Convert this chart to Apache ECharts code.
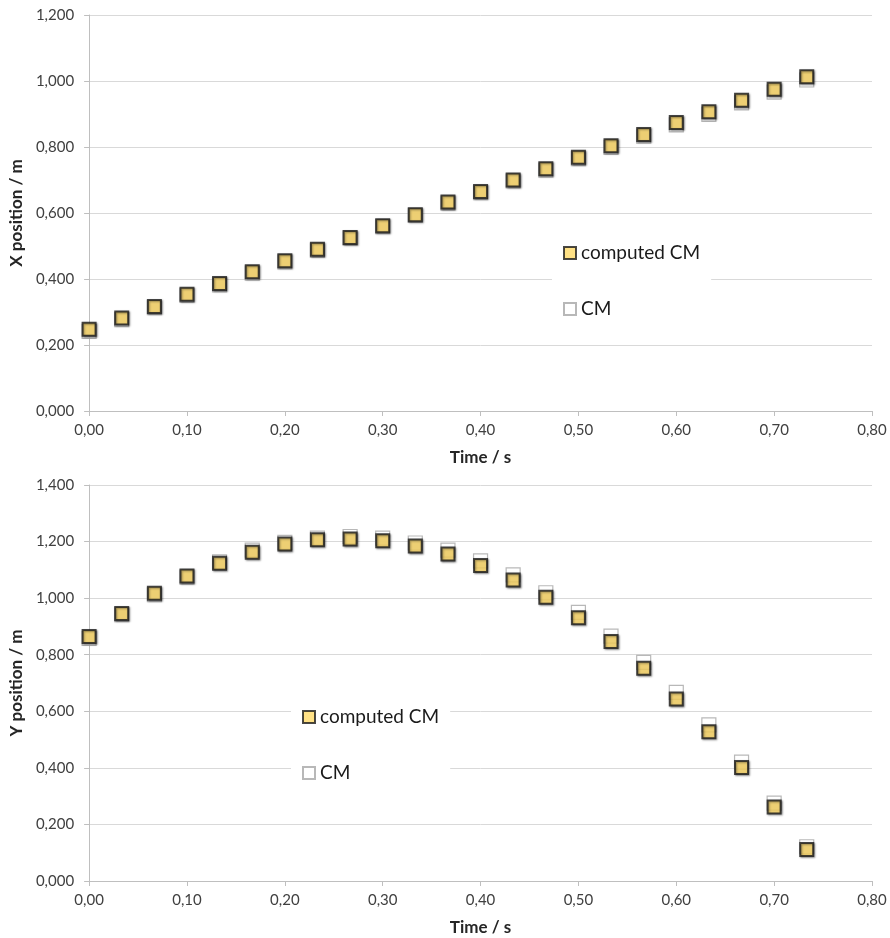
<!DOCTYPE html>
<html>
<head>
<meta charset="utf-8">
<script src="https://cdn.jsdelivr.net/npm/echarts@6/dist/echarts.min.js"></script>
<style>html,body{margin:0;padding:0;background:#fff}#c{width:890px;height:938px}</style>
</head>
<body>
<div id="c"></div>
<script>
// Time stamps (s)
var time = [0.0000,0.0333,0.0667,0.1000,0.1333,0.1667,0.2000,0.2333,0.2667,0.3000,0.3333,0.3667,0.4000,0.4333,0.4667,0.5000,0.5333,0.5667,0.6000,0.6333,0.6667,0.7000,0.7333];
// X position (m)
var xComputed = [0.248,0.282,0.317,0.354,0.386,0.422,0.455,0.490,0.526,0.561,0.595,0.633,0.665,0.700,0.734,0.769,0.804,0.838,0.874,0.907,0.942,0.975,1.013];
var xCM       = [0.241,0.277,0.313,0.350,0.382,0.418,0.452,0.487,0.524,0.559,0.593,0.630,0.662,0.697,0.730,0.765,0.799,0.833,0.867,0.899,0.934,0.966,1.003];
// Y position (m)
var yComputed = [0.864,0.946,1.017,1.078,1.123,1.162,1.191,1.206,1.209,1.203,1.184,1.156,1.115,1.064,1.003,0.931,0.847,0.752,0.643,0.528,0.401,0.262,0.111];
var yCM       = [0.858,0.942,1.012,1.074,1.128,1.170,1.197,1.212,1.218,1.212,1.195,1.170,1.132,1.082,1.019,0.950,0.866,0.773,0.667,0.552,0.420,0.275,0.121];
// Tick labels
var xTicks = ['0,00','0,10','0,20','0,30','0,40','0,50','0,60','0,70','0,80'];
var yTicksTop = ['0,000','0,200','0,400','0,600','0,800','1,000','1,200'];
var yTicksBottom = ['0,000','0,200','0,400','0,600','0,800','1,000','1,200','1,400'];

function pairs(xs, ys){ return xs.map(function(v,i){ return [v, ys[i]]; }); }

var FONT = 'Lato';
var labelColor = '#404040';
var gridColor = '#d9d9d9';
var axisColor = '#bfbfbf';

function xAxis(gi){
  return {
    type:'value', gridIndex:gi, min:0, max:0.8, interval:0.1,
    name:'Time / s', nameLocation:'middle', nameGap:38,
    nameTextStyle:{fontFamily:FONT, fontSize:17, fontWeight:'bold', color:'#262626'},
    axisLine:{show:true, onZero:false, lineStyle:{color:axisColor, width:1}},
    axisTick:{show:true, length:5, lineStyle:{color:axisColor}},
    splitLine:{show:false},
    axisLabel:{fontFamily:FONT, fontSize:15, color:labelColor, margin:12,
      formatter:function(v){ return xTicks[Math.round(v*10)]; }}
  };
}
function yAxis(gi, max, ticks, name){
  return {
    type:'value', gridIndex:gi, min:0, max:max, interval:0.2,
    name:name, nameLocation:'middle', nameGap:56,
    nameTextStyle:{fontFamily:FONT, fontSize:17, fontWeight:'bold', color:'#262626'},
    axisLine:{show:true, lineStyle:{color:axisColor, width:1}},
    axisTick:{show:true, length:5, lineStyle:{color:axisColor}},
    splitLine:{show:true, lineStyle:{color:gridColor, width:1}},
    axisLabel:{fontFamily:FONT, fontSize:15, color:labelColor, margin:15,
      formatter:function(v){ return ticks[Math.round(v*5)]; }}
  };
}

var cmStyle = {color:'#ffffff', borderColor:'#a6a6a6', borderWidth:1.2};
var compStyle = {color:'#ffd966', borderColor:'#1a1a1a', borderWidth:2,
  shadowBlur:2, shadowColor:'rgba(0,0,0,0.45)', shadowOffsetX:1, shadowOffsetY:1};

function legend(left, top){
  return {
    orient:'vertical', left:left, top:top, padding:[8,11,8,11],
    backgroundColor:'#ffffff', itemGap:36, itemWidth:12, itemHeight:12,
    textStyle:{fontFamily:FONT, fontSize:19, color:'#1a1a1a', lineHeight:20},
    data:[{name:'computed CM', icon:'rect'},{name:'CM', icon:'rect'}]
  };
}

var option = {
  animation:false,
  backgroundColor:'#ffffff',
  grid:[
    {left:89, top:15, width:783, height:396, containLabel:false},
    {left:89, top:485, width:783, height:396, containLabel:false}
  ],
  xAxis:[xAxis(0), xAxis(1)],
  yAxis:[yAxis(0, 1.2, yTicksTop, 'X position / m'), yAxis(1, 1.4, yTicksBottom, 'Y position / m')],
  legend:[legend(552, 235), legend(291, 699)],
  series:[
    {name:'CM', type:'scatter', xAxisIndex:0, yAxisIndex:0, symbol:'rect', symbolSize:14,
      itemStyle:cmStyle, data:pairs(time, xCM), z:2},
    {name:'computed CM', type:'scatter', xAxisIndex:0, yAxisIndex:0, symbol:'rect', symbolSize:13,
      itemStyle:compStyle, data:pairs(time, xComputed), z:3},
    {name:'CM', type:'scatter', xAxisIndex:1, yAxisIndex:1, symbol:'rect', symbolSize:14,
      itemStyle:cmStyle, data:pairs(time, yCM), z:2},
    {name:'computed CM', type:'scatter', xAxisIndex:1, yAxisIndex:1, symbol:'rect', symbolSize:13,
      itemStyle:compStyle, data:pairs(time, yComputed), z:3}
  ]
};
var chart = echarts.init(document.getElementById('c'), null, {renderer:'canvas'});
chart.setOption(option);
</script>
</body>
</html>
